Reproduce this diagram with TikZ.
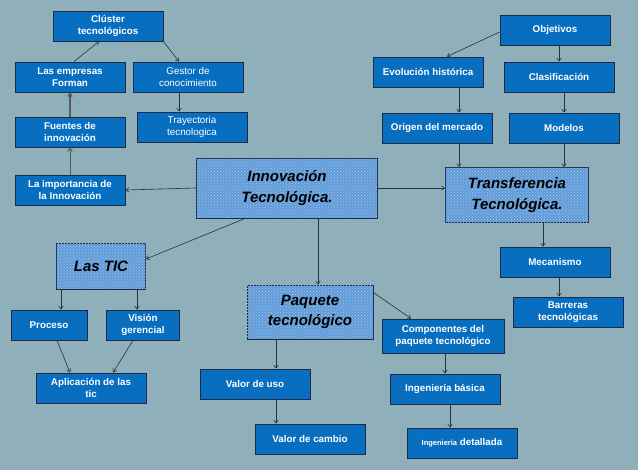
\documentclass[tikz,border=0pt]{standalone}
\usepackage{fontspec}
\setmainfont{Liberation Sans}
\usepackage{tikz}
\usetikzlibrary{arrows.meta, patterns}
\definecolor{bgslate}{RGB}{143,176,187}
\definecolor{boxblue}{RGB}{8,110,192}
\definecolor{boxedge}{RGB}{28,44,72}
\definecolor{imgblue}{RGB}{98,156,216}
\definecolor{imgdots}{RGB}{160,198,238}
\definecolor{linkgray}{RGB}{40,48,56}

\begin{document}
\begin{tikzpicture}[x=1pt, y=-1pt, >={Straight Barb[length=3pt,width=4.5pt]},
  box/.style={draw=boxedge, line width=0.9pt, fill=boxblue, text=white, minimum width=110pt, minimum height=30pt, inner sep=1pt, align=center, font=\fontsize{9.8}{12}\selectfont\bfseries},
  thinbox/.style={box, font=\fontsize{9.8}{12}\selectfont},
  imgbox/.style={draw=boxedge, line width=0.9pt, fill=imgblue, postaction={pattern=crosshatch dots, pattern color=imgdots}, text=black, inner sep=1pt, align=center, font=\fontsize{15}{20.5}\selectfont\bfseries\itshape},
  link/.style={->, draw=linkgray, line width=0.6pt}]

\fill[bgslate] (0,0) rectangle (638,470);
\useasboundingbox (0,0) rectangle (638,470);

% left branch
\node[box] (cluster) at (108,26) {Clúster\\tecnológicos};
\node[box] (empresas) at (70,77) {Las empresas\\Forman};
\node[thinbox] (gestor) at (188,77) {Gestor de\\conocimiento};
\node[thinbox] (trayect) at (192,127) {Trayectoria\\tecnologica};
\node[box] (fuentes) at (70,132) {Fuentes de\\innovación};
\node[box] (importa) at (70,190) {La importancia de\\la Innovación};

% centre
\node[imgbox, minimum width=181pt, minimum height=60pt] (innov) at (287,188) {Innovación\\Tecnológica.};
\node[imgbox, minimum width=89pt, minimum height=46pt] (tic) at (101,266) {Las TIC};
\node[imgbox, minimum width=143pt, minimum height=55pt] (transf) at (517,195) {Transferencia\\Tecnológica.};
\node[imgbox, minimum width=126pt, minimum height=54pt] (paquete) at (310,312) {Paquete\\tecnológico};

% right branch
\node[box] (objetiv) at (555,30) {Objetivos};
\node[box] (evol) at (428,72) {Evolución histórica};
\node[box] (clasif) at (559,77) {Clasificación};
\node[box] (origen) at (437,128) {Origen del mercado};
\node[box] (modelos) at (564,128) {Modelos};
\node[box] (mecan) at (555,262) {Mecanismo};
\node[box] (barreras) at (568,312) {Barreras\\tecnológicas};

% lower branches
\node[box, minimum width=76pt] (proceso) at (49,325) {Proceso};
\node[box, minimum width=73pt] (vision) at (143,325) {Visión\\gerencial};
\node[box] (aplic) at (91,388) {Aplicación de las\\tic};
\node[box] (vuso) at (255,384) {Valor de uso};
\node[box] (vcambio) at (310,439) {Valor de cambio};
\node[box, minimum width=122pt, minimum height=34pt] (compon) at (443,336) {Componentes del\\paquete tecnológico};
\node[box] (basica) at (445,389) {Ingeniería básica};
\node[box] (detall) at (462,443) {{\fontsize{7.5}{9}\selectfont Ingeniería} detallada};

% connectors
\draw[link] ([xshift=4pt]empresas.north) -- ([xshift=-9pt]cluster.south);
\draw[link] (cluster.south east) -- ([xshift=-9pt]gestor.north);
\draw[link] ([xshift=-9pt]gestor.south) -- ([xshift=-9pt]gestor.south |- trayect.north);
\draw[link, draw=gray!70!black, line width=1.3pt] (fuentes.north) -- (empresas.south);
\draw[link, draw=gray!70!black, line width=1pt] (importa.north) -- (fuentes.south);
\draw[link] (innov.west) -- (importa.east);
\draw[link] ([xshift=-42pt]innov.south) -- ([yshift=7pt]tic.east);
\draw[link] (innov.east) -- (innov.east -| transf.west);
\draw[link] ([xshift=31pt]innov.south) -- ([xshift=31pt]innov.south |- paquete.north);
\draw[link] ([yshift=-2pt]objetiv.west) -- ([xshift=19pt]evol.north);
\draw[link] ([xshift=4pt]objetiv.south) -- ([xshift=4pt]objetiv.south |- clasif.north);
\draw[link] ([xshift=31pt]evol.south) -- ([xshift=31pt]evol.south |- origen.north);
\draw[link] ([xshift=5pt]clasif.south) -- (modelos.north);
\draw[link] ([xshift=22pt]origen.south) -- ([xshift=22pt]origen.south |- transf.north);
\draw[link] (modelos.south) -- (modelos.south |- transf.north);
\draw[link] ([xshift=26pt]transf.south) -- ([xshift=26pt]transf.south |- mecan.north);
\draw[link] ([xshift=4pt]mecan.south) -- ([xshift=4pt]mecan.south |- barreras.north);
\draw[link] ([xshift=-40pt]tic.south) -- ([xshift=-40pt]tic.south |- proceso.north);
\draw[link] ([xshift=36pt]tic.south) -- ([xshift=36pt]tic.south |- vision.north);
\draw[link] ([xshift=8pt]proceso.south) -- ([xshift=-21pt]aplic.north);
\draw[link] ([xshift=-10pt]vision.south) -- ([xshift=22pt]aplic.north);
\draw[link] ([yshift=-8pt]paquete.north east) -- ([xshift=-32pt]compon.north);
\draw[link] ([xshift=-34pt]paquete.south) -- ([xshift=-34pt]paquete.south |- vuso.north);
\draw[link] ([xshift=21pt]vuso.south) -- ([xshift=21pt]vuso.south |- vcambio.north);
\draw[link] ([xshift=2pt]compon.south) -- ([xshift=2pt]compon.south |- basica.north);
\draw[link] ([xshift=5pt]basica.south) -- ([xshift=5pt]basica.south |- detall.north);

\end{tikzpicture}
\end{document}
